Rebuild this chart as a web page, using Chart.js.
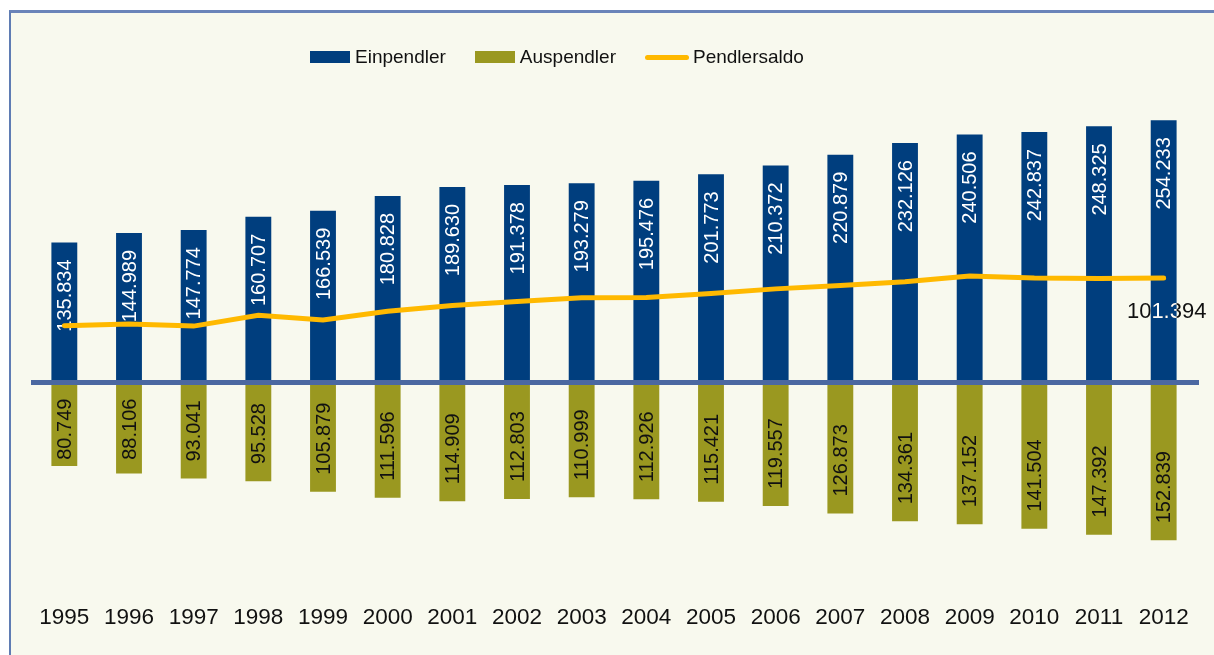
<!DOCTYPE html>
<html>
<head>
<meta charset="utf-8">
<script src="https://cdn.jsdelivr.net/npm/chart.js@4/dist/chart.umd.min.js"></script>
<style>
  body { margin: 0; background: #fff; font-family: "Liberation Sans", Arial, sans-serif; }
  #wrap { position: relative; width: 1214px; height: 655px; overflow: hidden; }
  #frame {
    position: absolute; left: 9px; top: 10px; width: 1300px; height: 700px;
    background: #f8f9ee; border-top: 3px solid #6a84b9; border-left: 2px solid #5f7cb3;
  }
  #chart { position: absolute; left: 0; top: 0; }
  .legend { position: absolute; top: 46px; left: 310px; display: flex; align-items: center; font-size: 19px; color: #111; }
  .legend .item { display: flex; align-items: center; margin-right: 29px; }
  .legend .box { width: 40px; height: 12px; margin-right: 5px; }
  .legend .ln { width: 44px; height: 5px; border-radius: 3px; margin-right: 4px; }
</style>
</head>
<body>
<div id="wrap">
  <div id="frame"></div>
  <canvas id="chart" width="1214" height="655"></canvas>
  <div class="legend">
    <div class="item"><span class="box" style="background:#003e7e"></span>Einpendler</div>
    <div class="item"><span class="box" style="background:#9a9820"></span>Auspendler</div>
    <div class="item"><span class="ln" style="background:#ffb900"></span>Pendlersaldo</div>
  </div>
</div>
<script>
const years = ['1995', '1996', '1997', '1998', '1999', '2000', '2001', '2002', '2003', '2004', '2005', '2006', '2007', '2008', '2009', '2010', '2011', '2012'];
const einpendler = [135834, 144989, 147774, 160707, 166539, 180828, 189630, 191378, 193279, 195476, 201773, 210372, 220879, 232126, 240506, 242837, 248325, 254233];
const auspendler = [80749, 88106, 93041, 95528, 105879, 111596, 114909, 112803, 110999, 112926, 115421, 119557, 126873, 134361, 137152, 141504, 147392, 152839];
const pendlersaldo = [55085, 56883, 54733, 65179, 60660, 69232, 74721, 78575, 82280, 82550, 86352, 90815, 94006, 97765, 103354, 101333, 100933, 101394];

const BLUE = '#003e7e';
const OLIVE = '#9a9820';
const GOLD = '#ffb900';
const FONT = '"Liberation Sans", Arial, sans-serif';

// German thousands separator
function fmt(v) {
  return String(v).replace(/\B(?=(\d{3})+(?!\d))/g, '.');
}

const labelPlugin = {
  id: 'labels',
  afterDatasetDraw(chart, args) {
    const ctx = chart.ctx;
    const zeroY = chart.scales.y.getPixelForValue(0);
    ctx.save();
    ctx.font = '20px ' + FONT;
    ctx.textBaseline = 'middle';
    if (args.index === 0) {
      // Einpendler: inside end, white
      args.meta.data.forEach((bar, i) => {
        ctx.save();
        ctx.translate(bar.x + 1, bar.y + 17);
        ctx.rotate(-Math.PI / 2);
        ctx.textAlign = 'right';
        ctx.fillStyle = '#fff';
        ctx.fillText(fmt(einpendler[i]), 0, 0);
        ctx.restore();
      });
    } else if (args.index === 1) {
      // Auspendler: near the bar end, but not onto the zero line
      args.meta.data.forEach((bar, i) => {
        const txt = fmt(auspendler[i]);
        const w = ctx.measureText(txt).width;
        let bottom = bar.y - 17;
        if (bottom - w < zeroY + 16) bottom = zeroY + 16 + w;
        ctx.save();
        ctx.translate(bar.x + 1, bottom);
        ctx.rotate(-Math.PI / 2);
        ctx.textAlign = 'left';
        ctx.fillStyle = '#111';
        ctx.fillText(txt, 0, 0);
        ctx.restore();
      });
    }
    ctx.restore();
  },
  afterDatasetsDraw(chart) {
    const ctx = chart.ctx;
    const area = chart.chartArea;
    const zeroY = chart.scales.y.getPixelForValue(0);

    // zero line on top of the bars
    ctx.save();
    ctx.strokeStyle = '#4b68a1';
    ctx.lineWidth = 5;
    ctx.beginPath();
    ctx.moveTo(area.left - 1, zeroY);
    ctx.lineTo(area.right + 3, zeroY);
    ctx.stroke();
    ctx.restore();

    // last Pendlersaldo value
    const last = pendlersaldo.length - 1;
    const pt = chart.getDatasetMeta(2).data[last];
    const bar = chart.getDatasetMeta(0).data[last];
    const txt = fmt(pendlersaldo[last]);
    ctx.save();
    ctx.font = '22px ' + FONT;
    ctx.textAlign = 'center';
    ctx.textBaseline = 'middle';
    ctx.fillStyle = '#111';
    ctx.fillText(txt, pt.x + 3, pt.y + 34);
    // part over the bar shows light
    ctx.beginPath();
    ctx.rect(bar.x - bar.width / 2, bar.y, bar.width, bar.base - bar.y);
    ctx.clip();
    ctx.fillStyle = '#fff';
    ctx.fillText(txt, pt.x + 3, pt.y + 34);
    ctx.restore();
  }
};

new Chart(document.getElementById('chart'), {
  type: 'bar',
  data: {
    labels: years,
    datasets: [
      {
        label: 'Einpendler',
        data: einpendler,
        backgroundColor: BLUE,
        borderWidth: 0,
        grouped: false,
        categoryPercentage: 1,
        barPercentage: 0.4,
        order: 2
      },
      {
        label: 'Auspendler',
        data: auspendler.map(v => -v),
        backgroundColor: OLIVE,
        borderWidth: 0,
        grouped: false,
        categoryPercentage: 1,
        barPercentage: 0.4,
        order: 1
      },
      {
        type: 'line',
        label: 'Pendlersaldo',
        data: pendlersaldo,
        borderColor: GOLD,
        backgroundColor: GOLD,
        borderWidth: 5,
        borderCapStyle: 'round',
        pointRadius: 0,
        tension: 0,
        order: 0
      }
    ]
  },
  options: {
    responsive: false,
    animation: false,
    devicePixelRatio: 1,
    layout: { padding: { left: 32, right: 18, top: 73, bottom: 9 } },
    plugins: {
      legend: { display: false },
      tooltip: { enabled: false }
    },
    scales: {
      x: {
        grid: { display: false, drawTicks: false },
        border: { display: false },
        ticks: { color: '#111', font: { family: FONT, size: 22.5 }, padding: 15, maxRotation: 0 }
      },
      y: {
        display: false,
        min: -200000,
        max: 300000
      }
    }
  },
  plugins: [labelPlugin]
});
</script>
</body>
</html>
